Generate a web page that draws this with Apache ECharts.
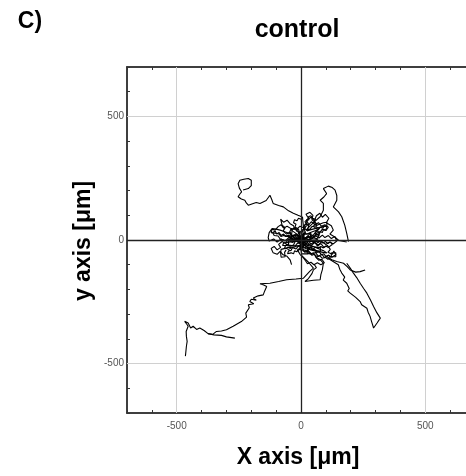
<!DOCTYPE html>
<html><head><meta charset="utf-8">
<script src="https://cdn.jsdelivr.net/npm/echarts@6/dist/echarts.min.js"></script>
<style>html,body{margin:0;padding:0;background:#fff}#c{width:466px;height:476px}</style>
</head><body><div id="c"></div>
<script>
// ---- data (µm) ----
const majorTicks = [-500, 0, 500];
const trackSW = [[0,-60],[30,-90],[50,-114],[36,-126],[9,-155],[-20,-158],[-58,-161],[-90,-168],[-125,-175],[-165,-177],[-150,-182],[-138,-188],[-146,-206],[-152,-222],[-172,-226],[-192,-235],[-180,-244],[-200,-240],[-206,-249],[-190,-258],[-212,-262],[-208,-274],[-212,-282],[-222,-296],[-219,-312],[-240,-330],[-273,-349],[-300,-363],[-320,-368],[-340,-370],[-355,-382],[-374,-379],[-390,-366],[-407,-356],[-420,-362],[-434,-349],[-444,-356],[-454,-336],[-468,-329],[-460,-340],[-454,-349],[-462,-370],[-461,-390],[-458,-410],[-461,-430],[-463,-450],[-465,-470]];
const trackSWtail = [[-374,-379],[-350,-384],[-320,-386],[-300,-392],[-266,-397]];
const trackSE1 = [[103,-67],[124,-80],[144,-87],[171,-94],[186,-108],[198,-121],[220,-130],[238,-128],[258,-121]];
const trackSE2 = [[110,-75],[150,-100],[156,-118],[164,-134],[176,-150],[170,-162],[184,-175],[194,-196],[188,-206],[198,-215],[220,-232],[238,-249],[244,-262],[265,-276],[270,-292],[278,-309],[284,-330],[292,-356],[306,-336],[319,-316],[305,-294],[292,-269],[280,-244],[265,-215],[252,-196],[238,-175],[224,-152],[211,-134],[198,-114],[184,-94]];
const trackLow = [[60,-70],[78,-80],[90,-94],[86,-120],[80,-140],[77,-161],[50,-163],[16,-168],[30,-156],[44,-136],[50,-121],[62,-112],[54,-100]];
const trackNW = [[3,94],[-12,100],[-31,108],[-50,118],[-71,134],[-90,140],[-112,148],[-118,165],[-125,181],[-140,160],[-165,148],[-180,152],[-192,148],[-212,141],[-220,150],[-226,161],[-240,166],[-253,175],[-246,186],[-239,195],[-248,210],[-253,228],[-246,242],[-230,246],[-212,249],[-200,242],[-192,235],[-200,220],[-212,208],[-233,202]];
const trackN = [[20,40],[50,70],[77,94],[90,120],[90,148],[77,161],[92,174],[103,188],[90,208],[110,218],[126,212],[137,202],[144,180],[144,161],[130,134],[151,114],[164,94],[176,60],[184,27],[191,-7]];
const cl1 = [[0,0],[8,18],[-4,32],[12,46],[26,40],[32,62],[22,80],[40,92],[54,78],[62,98],[76,108],[86,92],[98,104],[112,88],[102,70],[122,58],[130,40],[116,24],[136,12],[152,-2],[184,-8]];
const cl2 = [[0,0],[-14,8],[-26,-4],[-40,6],[-54,0],[-62,-14],[-76,-6],[-90,-18],[-82,-30],[-96,-40],[-108,-26],[-120,-34],[-112,-52],[-96,-58],[-84,-46],[-72,-60],[-56,-66],[-44,-80],[-38,-100]];
const cl3 = [[0,0],[-6,14],[-20,24],[-34,16],[-46,30],[-40,46],[-56,56],[-70,48],[-80,62],[-92,54],[-104,40],[-118,44],[-128,30],[-132,10],[-128,-4],[-110,4],[-96,-8],[-80,4],[-64,-4],[-48,10],[-30,2],[-14,-6],[0,2]];
const cl4 = [[0,0],[14,-10],[28,-2],[40,-16],[54,-8],[66,-24],[80,-14],[92,-30],[106,-22],[118,-38],[108,-50],[126,-58],[132,-44],[140,-60],[124,-70],[110,-62],[96,-72],[84,-58],[70,-66],[58,-50],[44,-58],[30,-44],[16,-50],[6,-36],[-6,-28],[4,-14]];
const cl5 = [[0,0],[4,22],[18,30],[12,48],[26,60],[16,74],[30,88],[20,104],[36,112],[48,100],[44,82],[58,70],[50,54],[66,44],[58,28],[72,18],[64,4],[48,12],[36,-2],[20,8],[6,-4]];
const cl6 = [[0,0],[20,10],[34,24],[48,18],[60,34],[74,28],[86,44],[100,38],[110,52],[96,62],[82,56],[70,70],[56,62],[42,74],[30,60],[18,66],[10,50],[-4,56],[-16,44],[-28,50],[-36,38],[-22,28],[-10,18],[-2,6]];
const cl7 = [[0,0],[-10,-8],[-22,4],[-34,-10],[-48,-2],[-40,12],[-28,20],[-16,10],[-30,-20],[-44,-24],[-58,-16],[-66,-30],[-50,-38],[-36,-30],[-20,-36],[-8,-22],[6,-30],[18,-16],[8,-6],[-4,8],[-18,-4],[-6,-12],[10,4]];
const cl8 = [[0,0],[18,4],[30,16],[46,6],[58,18],[72,8],[86,20],[96,10],[110,18],[122,6],[136,14],[144,-4],[130,-16],[116,-8],[100,-18],[84,-6],[70,-20],[56,-10],[40,-22],[26,-10],[12,-18],[2,-6]];
const cl9 = [[0,0],[10,-20],[0,-36],[14,-48],[28,-40],[36,-58],[50,-52],[60,-70],[72,-82],[84,-78],[94,-92],[80,-100],[66,-92],[52,-100],[40,-90],[26,-96],[18,-84],[8,-70],[-4,-58],[-12,-44],[-2,-30]];
const cl10 = [[0,0],[-14,16],[-8,34],[-24,42],[-30,58],[-44,66],[-56,80],[-70,72],[-82,84],[-76,60],[-64,50],[-72,36],[-58,24],[-44,32],[-36,14],[-22,6]];
const cl11 = [[0,0],[-6,-6],[-14,-2],[-20,-10],[-28,-6],[-34,-14],[-42,-8],[-48,-16],[-56,-10],[-62,-18],[-70,-12],[-74,-22],[-66,-28],[-58,-22],[-50,-30],[-42,-24],[-34,-32],[-26,-24],[-18,-30],[-10,-22],[-4,-14],[4,-20],[10,-12],[4,-4]];
const cl12 = [[0,0],[-8,4],[-16,-2],[-24,6],[-32,0],[-38,10],[-46,4],[-52,14],[-60,6],[-66,16],[-58,22],[-50,16],[-44,24],[-36,18],[-28,26],[-20,18],[-12,24],[-6,14],[2,18],[6,8]];
const cl13 = [[0,0],[8,-8],[16,-4],[22,-14],[30,-10],[36,-20],[44,-14],[50,-26],[58,-20],[64,-32],[72,-26],[78,-38],[86,-32],[92,-44],[100,-40],[104,-52],[96,-58],[88,-50],[80,-56],[72,-46],[64,-54],[56,-44],[48,-50],[40,-40],[32,-46],[24,-36],[16,-40],[10,-30],[4,-22]];
const cl14 = [[0,0],[6,-12],[14,-22],[24,-18],[30,-30],[40,-28],[46,-40],[56,-38],[62,-50],[74,-48],[82,-60],[92,-56],[100,-66],[112,-62],[118,-72],[108,-78],[98,-70],[86,-74],[76,-64],[66,-68],[54,-58],[44,-62],[36,-52],[26,-54],[20,-42],[10,-40],[6,-28]];
const cl15 = [[0,0],[6,10],[2,22],[10,30],[8,42],[18,48],[14,60],[24,66],[22,78],[32,82],[30,94],[40,98],[46,88],[52,96],[58,84],[54,72],[64,66],[60,54],[70,48],[66,36],[76,30],[72,18],[62,22],[54,12],[44,18],[36,8],[26,14],[18,4],[10,10]];
const cl16 = [[0,0],[12,8],[20,2],[28,12],[38,6],[44,18],[54,14],[60,26],[70,22],[76,34],[86,30],[90,42],[100,40],[104,54],[94,58],[88,48],[78,52],[70,42],[62,48],[54,36],[46,42],[38,30],[30,36],[24,24],[14,28],[8,16]];
const cl17 = [[0,0],[-10,10],[-20,6],[-30,16],[-40,10],[-50,20],[-60,14],[-70,24],[-80,18],[-88,30],[-98,24],[-104,36],[-114,30],[-108,18],[-100,10],[-92,16],[-84,4],[-76,10],[-68,0],[-60,6],[-50,-4],[-40,2],[-30,-8],[-20,-2],[-10,-10]];
const cl18 = [[0,0],[-8,-12],[-18,-16],[-24,-28],[-34,-30],[-40,-42],[-50,-44],[-54,-56],[-46,-62],[-40,-52],[-30,-56],[-26,-44],[-16,-48],[-12,-36],[-2,-40],[2,-28],[-6,-20]];
const cl19 = [[0,0],[-4,12],[-12,18],[-8,30],[-18,36],[-14,48],[-24,52],[-20,64],[-30,70],[-26,82],[-16,78],[-10,88],[0,84],[6,94],[12,86],[8,72],[16,66],[10,54],[18,46],[12,34],[20,26],[12,16],[6,6]];
const cl20 = [[0,0],[-4,4],[-10,0],[-8,-6],[-14,-8],[-18,-2],[-24,-4],[-20,4],[-26,8],[-18,12],[-12,6],[-6,10],[0,6],[6,2],[4,-6],[-2,-10],[-8,-14],[-2,-18],[6,-12],[12,-6],[8,2]];
const cl21 = [[0,0],[10,-4],[18,2],[28,-6],[38,0],[48,-8],[58,-2],[68,-10],[78,-4],[88,-12],[98,-6],[108,-14],[118,-8],[126,-18],[134,-10],[128,-26],[118,-22],[110,-30],[100,-24],[90,-32],[80,-26],[70,-34],[60,-28],[50,-36],[40,-28],[30,-34],[20,-24],[12,-28],[6,-16]];
const cl22 = [[0,0],[4,-10],[-2,-20],[6,-28],[0,-38],[8,-46],[2,-56],[10,-62],[18,-56],[24,-64],[30,-56],[26,-46],[34,-40],[28,-30],[20,-34],[16,-24],[8,-18]];
const cl23 = [[0,0],[-5,-4],[-12,2],[-18,-5],[-25,1],[-30,-7],[-38,-2],[-44,-10],[-50,-4],[-56,-12],[-50,-20],[-42,-14],[-36,-22],[-28,-16],[-22,-24],[-14,-18],[-8,-26],[-2,-18],[4,-10],[-2,-4]];
const cl24 = [[0,0],[6,6],[14,0],[20,8],[28,2],[34,10],[42,4],[48,12],[54,4],[60,12],[66,2],[72,-8],[64,-14],[56,-6],[48,-14],[40,-6],[32,-14],[24,-6],[16,-12],[8,-4]];
const cl25 = [[0,0],[-2,-8],[6,-14],[2,-22],[10,-28],[18,-24],[24,-32],[32,-28],[38,-36],[46,-32],[52,-40],[60,-36],[66,-44],[72,-38],[78,-46],[84,-40],[78,-30],[70,-24],[62,-30],[54,-22],[46,-26],[38,-18],[30,-22],[22,-14],[14,-18],[8,-8]];
const cl26 = [[0,0],[-6,8],[-2,16],[-10,22],[-6,30],[-14,36],[-10,44],[-18,50],[-26,44],[-32,52],[-40,46],[-36,36],[-44,30],[-38,22],[-46,16],[-40,8],[-32,12],[-26,4],[-18,8],[-12,0],[-6,4]];
const cl27 = [[0,0],[4,8],[12,12],[10,22],[18,28],[26,24],[32,32],[40,28],[38,18],[46,12],[40,4],[32,8],[26,0],[18,4],[12,-4],[4,-2]];
const cl28 = [[-60,-40],[-66,-50],[-58,-58],[-64,-68],[-72,-62],[-80,-70],[-88,-62],[-82,-52],[-90,-44],[-80,-38],[-72,-44],[-64,-34],[-54,-30],[-46,-38],[-38,-30]];
const cl29 = [[20,40],[28,48],[36,44],[44,54],[52,50],[60,58],[68,54],[74,64],[82,60],[90,70],[96,64],[104,72],[110,64],[104,56],[96,50],[88,54],[80,46],[72,50],[64,42],[56,46],[48,38],[40,42],[32,34],[24,36]];
const cl30 = [[-30,10],[-36,20],[-44,18],[-52,28],[-60,24],[-68,34],[-76,30],[-84,40],[-92,36],[-100,44],[-108,38],[-116,46],[-124,40],[-120,30],[-112,24],[-104,28],[-96,20],[-88,24],[-80,14],[-70,18],[-62,10],[-54,14],[-46,6],[-38,8]];
const endSquare = [[122,-52],[140,-52],[140,-68],[122,-68],[122,-52]];
const tracks = [trackSW, trackSWtail, trackSE1, trackSE2, trackLow, trackNW, trackN,
  cl1, cl2, cl3, cl4, cl5, cl6, cl7, cl8, cl9, cl10, cl11, cl12, cl13, cl14, cl15, cl16, cl17, cl18, cl19, cl20,
  cl21, cl22, cl23, cl24, cl25, cl26, cl27, cl28, cl29, cl30, endSquare];

const chart = echarts.init(document.getElementById('c'), null, {renderer: 'canvas'});
const axisLine = {show: true, onZero: false, lineStyle: {color: '#333', width: 1.5}};
function minorAxis(pos) {
  return {type: 'value', position: pos, min: -700, max: 700, interval: 100,
    axisLine: axisLine, axisTick: {show: true, inside: true, length: 3, lineStyle: {color: '#333'}},
    axisLabel: {show: false}, splitLine: {show: false}};
}
function majorAxis(pos, showLabel) {
  return {type: 'value', position: pos, min: -700, max: 700,
    axisLine: axisLine,
    axisTick: {show: true, inside: true, length: 7, customValues: majorTicks, lineStyle: {color: '#333'}},
    axisLabel: {show: showLabel, customValues: majorTicks, color: '#555', fontSize: 10, fontFamily: 'Liberation Sans', margin: pos === 'left' ? 3 : 8},
    splitLine: {show: false}};
}
const series = tracks.map(t => ({type: 'line', data: t, showSymbol: false, silent: true,
  lineStyle: {color: '#000', width: 1.1}, xAxisIndex: 0, yAxisIndex: 0, z: 3}));
series.push({type: 'line', data: [], xAxisIndex: 0, yAxisIndex: 0, silent: true,
  markLine: {symbol: 'none', silent: true, label: {show: false}, animation: false,
    data: [
      {xAxis: -500, lineStyle: {color: '#d0d0d0', width: 1, type: 'solid'}},
      {xAxis: 500, lineStyle: {color: '#d0d0d0', width: 1, type: 'solid'}},
      {yAxis: -500, lineStyle: {color: '#d0d0d0', width: 1, type: 'solid'}},
      {yAxis: 500, lineStyle: {color: '#d0d0d0', width: 1, type: 'solid'}},
      {xAxis: 0, lineStyle: {color: '#222', width: 1.3, type: 'solid'}},
      {yAxis: 0, lineStyle: {color: '#222', width: 1.3, type: 'solid'}}
    ]}, z: 2});

const font = 'Liberation Sans';
chart.setOption({
  animation: false,
  backgroundColor: '#fff',
  graphic: [
    {type: 'text', x: 30, y: 22, style: {text: 'C)', font: 'bold 23px ' + font, fill: '#000', textAlign: 'center', textVerticalAlign: 'middle'}},
    {type: 'text', x: 297, y: 30, style: {text: 'control', font: 'bold 25px ' + font, fill: '#000', textAlign: 'center', textVerticalAlign: 'middle'}},
    {type: 'text', x: 298, y: 458, style: {text: 'X axis [μm]', font: 'bold 23px ' + font, fill: '#000', textAlign: 'center', textVerticalAlign: 'middle'}},
    {type: 'text', x: 84, y: 241, rotation: Math.PI / 2, style: {text: 'y axis [μm]', font: 'bold 23px ' + font, fill: '#000', textAlign: 'center', textVerticalAlign: 'middle'}}
  ],
  grid: {left: 127, top: 67, width: 348, height: 346, outerBoundsMode: 'none', containLabel: false},
  xAxis: [majorAxis('bottom', true), minorAxis('bottom'), minorAxis('top'), majorAxis('top', false)],
  yAxis: [majorAxis('left', true), minorAxis('left')],
  series: series
});
</script></body></html>
